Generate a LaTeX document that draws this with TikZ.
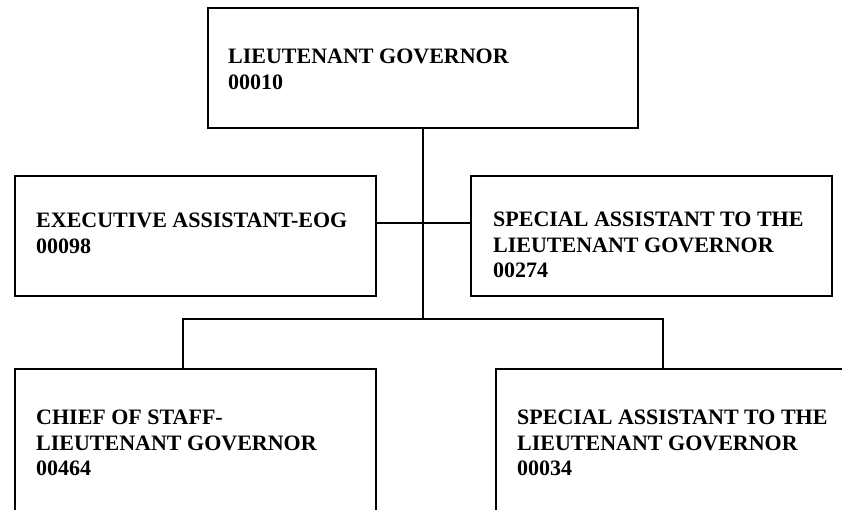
\documentclass[tikz,border=0pt]{standalone}
\usepackage{fontspec}
\setmainfont{Liberation Serif}
\begin{document}
\begin{tikzpicture}[x=1pt,y=-1pt,
  box/.style={draw, line width=2.4pt, inner sep=0pt, anchor=north west, minimum width=361pt},
  lbl/.style={anchor=north west, inner sep=0pt, align=left, font=\fontsize{22}{25.5}\selectfont\bfseries},
  link/.style={line width=1.7pt}]
\useasboundingbox (0,0) rectangle (842,510);
\clip (0,0) rectangle (842,510);
% boxes
\node[box, minimum width=430pt, minimum height=120pt] (lg) at (207,7) {};
\node[box, minimum height=120pt] (ea) at (14,175) {};
\node[box, minimum height=120pt] (sa1) at (470,175) {};
\node[box, minimum height=170pt] (cs) at (14,368) {};
\node[box, minimum height=170pt] (sa2) at (495,368) {};
% labels
\node[lbl] (lgt) at (228,49) {LIEUTENANT GOVERNOR\\00010};
\node[lbl] (eat) at (36,213) {EXECUTIVE ASSISTANT-EOG\\00098};
\node[lbl] (sa1t) at (493,212) {SPECIAL ASSISTANT TO THE\\LIEUTENANT GOVERNOR\\00274};
\node[lbl] (cst) at (36,410) {CHIEF OF STAFF-\\LIEUTENANT GOVERNOR\\00464};
\node[lbl] (sa2t) at (517,410) {SPECIAL ASSISTANT TO THE\\LIEUTENANT GOVERNOR\\00034};
% connector coordinates
\coordinate (hy) at (0,223);
\coordinate (busc) at (422,319);
\coordinate (dl) at (183,319);
\coordinate (dr) at (663,319);
% connectors
\draw[link] (lg.south) -- (lg.south |- busc);
\draw[link] (ea.east |- hy) -- (sa1.west |- hy);
\draw[link] (cs.north -| dl) -- (dl) -- (dr) -- (sa2.north -| dr);
\end{tikzpicture}
\end{document}
